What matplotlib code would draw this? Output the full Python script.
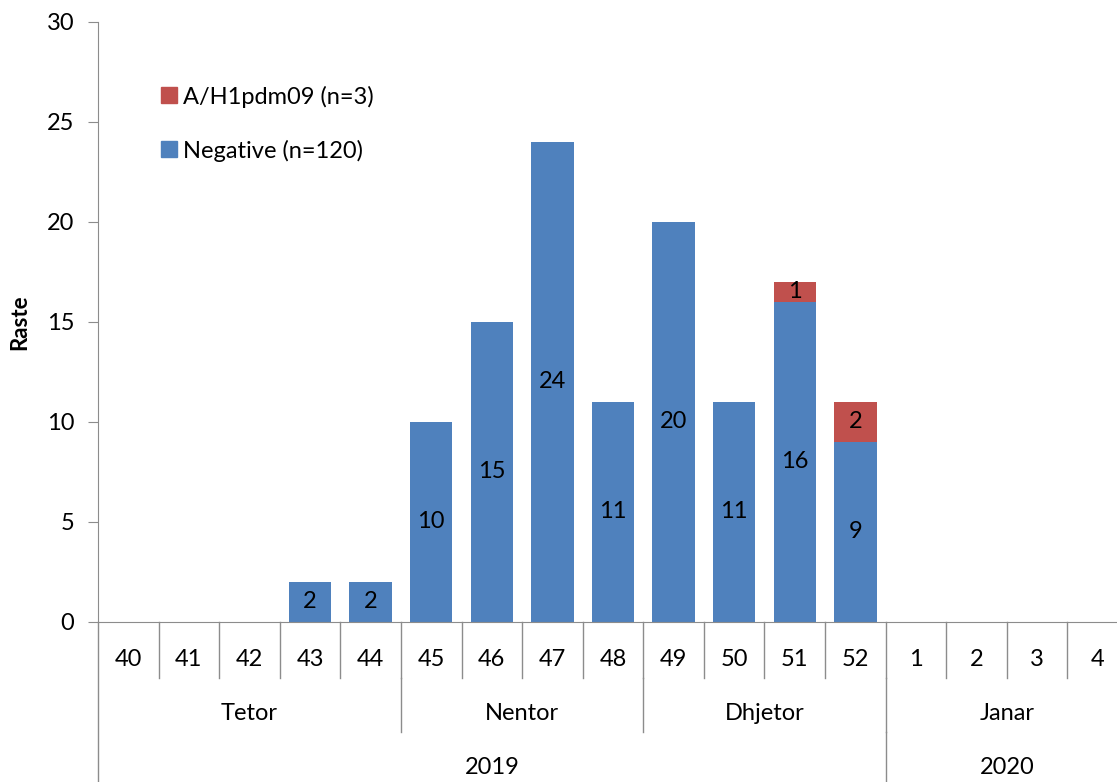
import matplotlib
matplotlib.use("Agg")
import matplotlib.pyplot as plt
from matplotlib.patches import Patch

weeks = ["40", "41", "42", "43", "44", "45", "46", "47", "48", "49", "50", "51", "52", "1", "2", "3", "4"]
negative = [0, 0, 0, 2, 2, 10, 15, 24, 11, 20, 11, 16, 9, 0, 0, 0, 0]
h1pdm09 = [0, 0, 0, 0, 0, 0, 0, 0, 0, 0, 0, 1, 2, 0, 0, 0, 0]
months = ["Tetor", "Nentor", "Dhjetor", "Janar"]
month_spans = [(0, 4), (5, 8), (9, 12), (13, 16)]
years = ["2019", "2020"]
year_spans = [(0, 12), (13, 16)]
legend_labels = ["A/H1pdm09 (n=3)", "Negative (n=120)"]

BLUE = "#4F81BD"
RED = "#C0504D"
GRAY = "#8C8C8C"
FONT = ["Lato", "DejaVu Sans"]
plt.rcParams["font.family"] = FONT
FS = 17

W, H = 1117, 782
fig = plt.figure(figsize=(W / 100, H / 100), dpi=100)
ax = fig.add_axes([98 / W, 160 / H, 1030 / W, 600 / H])

x = list(range(len(weeks)))
bw = 0.7
ax.bar(x, negative, width=bw, color=BLUE, zorder=2)
ax.bar(x, h1pdm09, width=bw, bottom=negative, color=RED, zorder=2)

for i in x:
    if negative[i] > 0:
        ax.text(i, negative[i] / 2, str(negative[i]), ha="center", va="center", fontsize=FS, color="black")
    if h1pdm09[i] > 0:
        ax.text(i, negative[i] + h1pdm09[i] / 2, str(h1pdm09[i]), ha="center", va="center", fontsize=FS, color="black")

ax.set_xlim(-0.5, len(weeks) - 0.5)
ax.set_ylim(0, 30)
ax.set_yticks(range(0, 31, 5))
ax.tick_params(axis="y", labelsize=FS, length=7, color=GRAY, pad=10)
ax.tick_params(axis="x", bottom=False, labelbottom=False)
for s in ["top", "right"]:
    ax.spines[s].set_visible(False)
ax.spines["left"].set_color(GRAY)
ax.spines["bottom"].set_color(GRAY)
ax.set_ylabel("Raste", fontsize=16, fontweight="bold", labelpad=12)

# multi-level category axis
week_bottom = -2.8
month_bottom = -5.5
year_bottom = -8.0
lw = 1.0
for i in range(1, len(weeks)):
    ax.plot([i - 0.5, i - 0.5], [0, week_bottom], color=GRAY, lw=lw, clip_on=False)
for a, b in month_spans[1:]:
    ax.plot([a - 0.5, a - 0.5], [week_bottom, month_bottom], color=GRAY, lw=lw, clip_on=False)
for a, b in year_spans[1:]:
    ax.plot([a - 0.5, a - 0.5], [month_bottom, year_bottom], color=GRAY, lw=lw, clip_on=False)
ax.plot([-0.5, -0.5], [0, year_bottom], color=GRAY, lw=lw, clip_on=False)

for i, w in enumerate(weeks):
    ax.text(i, -1.9, w, ha="center", va="center", fontsize=FS, clip_on=False)
for m, (a, b) in zip(months, month_spans):
    ax.text((a + b) / 2, -4.55, m, ha="center", va="center", fontsize=FS, clip_on=False)
for yv, (a, b) in zip(years, year_spans):
    ax.text((a + b) / 2, -7.3, yv, ha="center", va="center", fontsize=FS, clip_on=False)

handles = [Patch(color=RED), Patch(color=BLUE)]
fig.legend(handles, legend_labels, loc="upper left", bbox_to_anchor=(152 / W, 1 - 76 / H),
           frameon=False, fontsize=FS, handlelength=0.65, handleheight=0.65,
           handletextpad=0.25, labelspacing=1.35, borderaxespad=0)

fig.savefig("out.png", dpi=100)
